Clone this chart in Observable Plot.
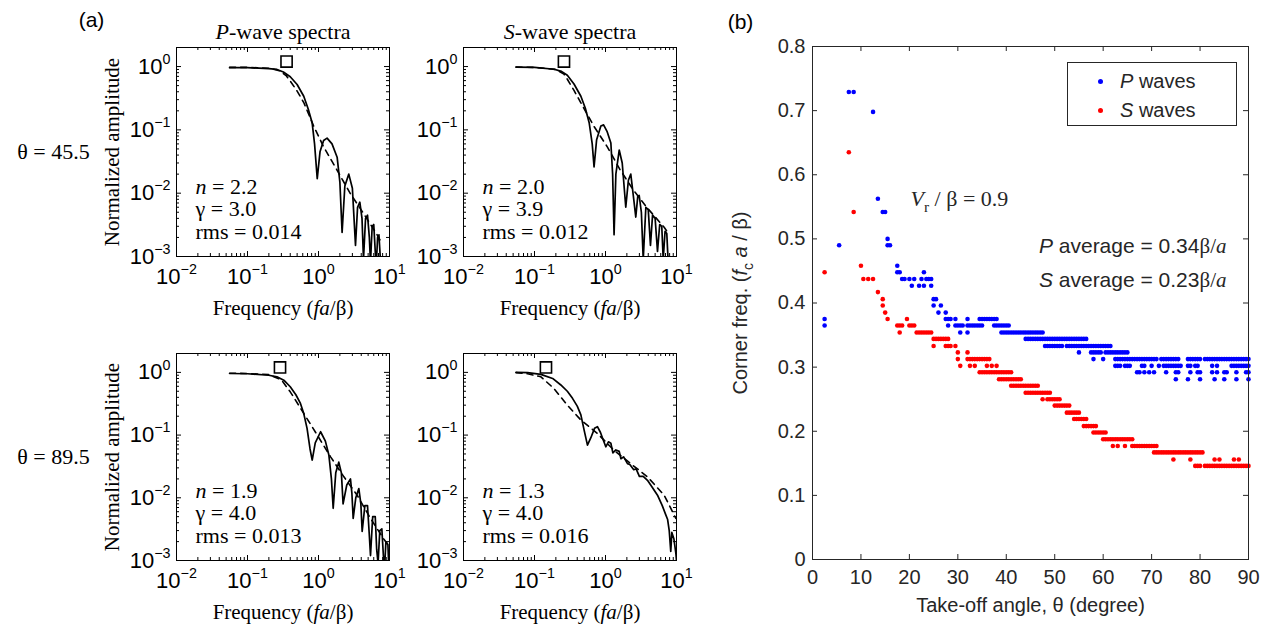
<!DOCTYPE html>
<html>
<head>
<meta charset="utf-8">
<script src="https://cdn.jsdelivr.net/npm/d3@7"></script>
<script src="https://cdn.jsdelivr.net/npm/@observablehq/plot@0.6"></script>
<style>
html, body { margin: 0; padding: 0; background: #fff; }
#fig { position: relative; width: 1273px; height: 624px; overflow: hidden; background: #fff; }
#fig svg { position: absolute; overflow: visible; background: transparent; }
.legend { position: absolute; box-sizing: border-box; border: 1px solid #262626; background: #fff;
  font-family: 'Liberation Sans', Arial, Helvetica, sans-serif; font-size: 20px; color: #262626; }
.legend .row { position: absolute; left: 0; height: 24px; line-height: 24px; white-space: nowrap; }
.legend .dot { position: absolute; width: 5px; height: 5px; border-radius: 50%; top: 10px; }
.legend .lab { position: absolute; top: 0; }
</style>
</head>
<body>
<div id="fig"></div>
<script>
// ---------------- DATA ----------------
// Panel (a): spectra, [frequency fa/beta, normalized amplitude]
const freqTicks = [0.01, 0.1, 1, 10];
const ampTicks = [0.001, 0.01, 0.1, 1];
const waveTitles = ["*P*-wave spectra", "*S*-wave spectra"];
const rowLabels = ["θ = 45.5", "θ = 89.5"];
const freqLabel = "Frequency (*fa*/β)";
const ampLabel = "Normalized amplitude";
const fitLabels = [
  ["*n* = 2.2", "γ = 3.0", "rms = 0.014"],
  ["*n* = 2.0", "γ = 3.9", "rms = 0.012"],
  ["*n* = 1.9", "γ = 4.0", "rms = 0.013"],
  ["*n* = 1.3", "γ = 4.0", "rms = 0.016"]
];
const cornerFreqs = [0.355, 0.26, 0.287, 0.145];
const cornerAmp = 1.2;

const p45Solid = [[0.056,0.96],[0.1,0.96],[0.2,0.93],[0.26,0.9],[0.32,0.82],[0.4,0.69],[0.5,0.52],[0.62,0.34],[0.72,0.21],[0.815,0.128],[0.88,0.06],[0.96,0.017],[1.05,0.045],[1.18,0.068],[1.32,0.074],[1.55,0.06],[1.83,0.037],[2.0,0.015],[2.15,0.0024],[2.35,0.013],[2.67,0.02],[3.0,0.012],[3.32,0.0015],[3.55,0.006],[3.82,0.0072],[4.1,0.004],[4.3,0.0009],[4.6,0.004],[4.9,0.0045],[5.2,0.002],[5.4,0.0008],[5.7,0.003],[6.0,0.0032],[6.3,0.0012],[6.5,0.0007],[6.8,0.002],[7.1,0.0022],[7.4,0.001],[7.6,0.0006]];
const p45Dashed = [[0.056,0.97],[0.1,0.97],[0.2,0.94],[0.28,0.86],[0.35,0.72],[0.4,0.59],[0.5,0.41],[0.62,0.27],[0.86,0.113],[1.18,0.054],[1.83,0.023],[2.82,0.0098],[4.35,0.0047],[6.7,0.0022],[7.6,0.0017]];
const s45Solid = [[0.055,0.98],[0.1,0.97],[0.189,0.906],[0.24,0.84],[0.29,0.73],[0.36,0.53],[0.45,0.34],[0.52,0.22],[0.59,0.128],[0.65,0.06],[0.69,0.026],[0.75,0.07],[0.86,0.115],[0.94,0.12],[1.05,0.095],[1.19,0.062],[1.26,0.02],[1.32,0.0022],[1.4,0.02],[1.56,0.048],[1.72,0.03],[1.93,0.006],[2.1,0.016],[2.27,0.02],[2.5,0.008],[2.67,0.0042],[2.85,0.009],[2.98,0.0092],[3.2,0.005],[3.4,0.0009],[3.7,0.006],[4.0,0.0055],[4.3,0.0015],[4.6,0.0045],[5.0,0.004],[5.4,0.0012],[5.8,0.0032],[6.2,0.003],[6.5,0.0009],[6.9,0.0025],[7.3,0.0023],[7.6,0.0009]];
const s45Dashed = [[0.055,0.98],[0.1,0.97],[0.2,0.9],[0.26,0.76],[0.29,0.63],[0.36,0.42],[0.45,0.267],[0.69,0.113],[1.06,0.054],[1.62,0.023],[2.5,0.011],[3.8,0.006],[6.7,0.0029],[7.7,0.0023]];
const p89Solid = [[0.056,0.96],[0.1,0.95],[0.2,0.9],[0.26,0.85],[0.33,0.74],[0.4,0.59],[0.48,0.44],[0.557,0.32],[0.62,0.22],[0.69,0.128],[0.76,0.06],[0.815,0.04],[0.9,0.075],[1.07,0.113],[1.25,0.08],[1.4,0.048],[1.52,0.02],[1.61,0.0068],[1.75,0.025],[1.93,0.037],[2.1,0.025],[2.22,0.008],[2.5,0.016],[2.82,0.02],[2.95,0.012],[3.08,0.0047],[3.35,0.01],[3.7,0.014],[3.95,0.008],[4.12,0.0029],[4.5,0.0075],[4.9,0.0075],[5.2,0.0025],[5.4,0.0012],[5.8,0.005],[6.3,0.005],[6.6,0.0015],[6.9,0.0009],[7.3,0.003],[7.8,0.0032],[8.2,0.0012],[8.5,0.0007],[8.9,0.002],[9.5,0.0018],[9.8,0.0007]];
const p89Dashed = [[0.056,0.97],[0.1,0.96],[0.2,0.92],[0.3,0.76],[0.4,0.49],[0.62,0.222],[0.96,0.1],[1.48,0.045],[2.28,0.0216],[3.5,0.011],[5.4,0.0047],[8.3,0.0022],[9.8,0.0017]];
const s89Solid = [[0.055,1.0],[0.08,0.99],[0.123,0.93],[0.18,0.8],[0.235,0.63],[0.29,0.5],[0.343,0.385],[0.4,0.29],[0.45,0.21],[0.5,0.12],[0.557,0.069],[0.62,0.09],[0.7,0.128],[0.77,0.136],[0.85,0.11],[0.91,0.089],[1.01,0.065],[1.1,0.078],[1.19,0.074],[1.27,0.052],[1.4,0.058],[1.56,0.055],[1.65,0.042],[1.8,0.045],[2.04,0.035],[2.2,0.034],[2.5,0.028],[2.7,0.029],[3.0,0.022],[3.4,0.022],[3.9,0.019],[4.5,0.015],[5.4,0.011],[6.3,0.0075],[7.0,0.0055],[7.5,0.0045],[7.9,0.003],[8.3,0.0014],[8.6,0.0028],[9.2,0.0022],[9.8,0.0013],[10,0.001]];
const s89Dashed = [[0.055,0.99],[0.08,0.95],[0.123,0.85],[0.187,0.556],[0.29,0.3],[0.45,0.174],[0.77,0.106],[1.3,0.058],[2.27,0.035],[3.9,0.0216],[6.7,0.011],[9.8,0.0047]];

// Panel (b): corner frequency levels and the take-off angles where each occurs
const angleTicks = [0, 10, 20, 30, 40, 50, 60, 70, 80, 90];
const cornerTicks = [0, 0.1, 0.2, 0.3, 0.4, 0.5, 0.6, 0.7, 0.8];
const pCorner = [0.729, 0.698, 0.5625, 0.542, 0.500, 0.490, 0.458, 0.448, 0.4375, 0.427, 0.406, 0.396, 0.385, 0.375, 0.365, 0.354, 0.344, 0.333, 0.323, 0.3125, 0.302, 0.292, 0.281];
const pAngle = [
  [7.5, 8.5],
  [12.5],
  [13.5],
  [14.5, 15],
  [15.5],
  [5.5, 15.5, 16],
  [17.5],
  [17.5, 18, 23],
  [18.5, 19, 20, 21, 22.5, 23.5, 24, 24.5],
  [20.5, 22, 23, 24.5],
  [25, 25.5],
  [25, 26.5],
  [26, 27.5],
  [2.5, 27.5, 28, 28.5, 29.5, 32, 34.5, 35, 35.5, 36, 36.5, 37, 37.5, 38],
  [2.5, 28, 29.5, 30, 30.5, 31, 32, 32.5, 33, 33.5, 34, 34.5, 35, 37.5, 38, 38.5, 39, 39.5, 40, 40.5],
  [30.5, 32, 39, 39.5, 40, 40.5, 41, 41.5, 42, 42.5, 43, 43.5, 44, 44.5, 45, 45.5, 46, 46.5, 47, 47.5],
  [44, 44.5, 45, 45.5, 46, 46.5, 47, 47.5, 48, 48.5, 49, 49.5, 50, 50.5, 51, 51.5, 52, 52.5, 53, 53.5, 54, 54.5, 55, 55.5, 56, 56.5],
  [48, 48.5, 49, 49.5, 50, 50.5, 51, 51.5, 52.5, 53, 53.5, 54, 54.5, 55, 55.5, 56, 56.5, 57, 57.5, 58, 58.5, 59, 59.5, 60, 60.5, 61, 61.5],
  [55, 57.5, 58, 58.5, 59, 59.5, 60.5, 61, 61.5, 62, 62.5, 63, 63.5, 64, 64.5, 65],
  [58, 60, 62.5, 63, 63.5, 64, 64.5, 65, 65.5, 66, 66.5, 67, 67.5, 68, 68.5, 69, 69.5, 70, 70.5, 71, 72, 72.5, 73, 73.5, 74, 74.5, 75, 75.5, 77.5, 78, 78.5, 79, 79.5, 80, 81, 81.5, 82, 82.5, 83, 83.5, 84, 84.5, 85, 85.5, 86, 86.5, 87, 87.5, 88, 88.5, 89, 89.5, 90],
  [62.5, 63, 63.5, 64.5, 65, 65.5, 68, 68.5, 70, 71.5, 72.5, 73, 73.5, 74, 74.5, 75, 75.5, 76, 77.5, 78, 79, 79.5, 82.5, 83.5, 86.5, 87, 87.5, 88, 88.5, 89, 89.5, 90],
  [67, 67.5, 68.5, 69.5, 70.5, 73, 75, 75.5, 78, 79.5, 80, 82.5, 83.5, 85, 85.5, 87.5, 89.5, 90],
  [75, 77.5, 80, 83, 85, 87.5, 90]
];
const sCorner = [0.635, 0.542, 0.458, 0.448, 0.4375, 0.417, 0.406, 0.396, 0.385, 0.375, 0.365, 0.354, 0.344, 0.333, 0.323, 0.3125, 0.302, 0.292, 0.281, 0.271, 0.26, 0.25, 0.24, 0.229, 0.219, 0.208, 0.198, 0.1875, 0.177, 0.167, 0.156, 0.146];
const sAngle = [
  [7.5], [8.5], [10], [2.5], [10.5, 11.5, 12.5], [13.5], [14.5], [14.5], [15], [15.5, 19.5],
  [17.5, 18, 18.5, 20, 20.5, 21],
  [18, 21.5, 22, 22.5, 23, 23.5, 24, 24.5],
  [25, 25.5, 26, 26.5, 27, 27.5, 28],
  [25, 27.5, 28, 28.5, 29.5],
  [30, 32],
  [30, 32, 32.5, 33, 33.5, 34, 34.5, 35, 35.5, 36, 36.5],
  [30.5, 32.5, 33.5, 36, 37, 38],
  [34.5, 35, 35.5, 36, 36.5, 37, 37.5, 38, 38.5, 39, 39.5, 40, 40.5, 41],
  [38.5, 39, 39.5, 40, 40.5, 41, 41.5, 42, 42.5, 43],
  [41, 41.5, 42, 42.5, 43, 43.5, 44, 44.5, 45, 45.5, 46, 46.5],
  [44, 44.5, 45, 45.5, 46, 46.5, 47, 47.5, 48, 48.5, 49],
  [47.5, 48.5, 49, 49.5, 50, 50.5, 51],
  [50, 50.5, 51, 51.5, 52, 52.5, 53],
  [52.5, 53, 53.5, 54, 54.5, 55],
  [54, 54.5, 55, 55.5, 56, 56.5],
  [56, 56.5, 57, 57.5, 58, 58.5],
  [58, 58.5, 59, 59.5, 60, 60.5],
  [60, 60.5, 61, 61.5, 62, 62.5, 63, 63.5, 64, 64.5, 65, 65.5, 66],
  [62, 63, 64.5, 66, 66.5, 67, 67.5, 68, 68.5, 69, 69.5, 70, 70.5, 71],
  [70.5, 71, 71.5, 72, 72.5, 73, 73.5, 74, 74.5, 75, 75.5, 76, 76.5, 77, 77.5, 78, 78.5, 79, 79.5, 80, 80.5],
  [74.5, 78, 83, 84, 87, 88],
  [79, 79.5, 80, 81, 81.5, 82, 82.5, 83, 83.5, 84, 84.5, 85, 85.5, 86, 86.5, 87, 87.5, 88, 88.5, 89, 89.5, 90]
];
const seriesNames = ["*P* waves", "*S* waves"];
const seriesColors = ["#0000ff", "#ff0000"];
const panelLabels = ["(a)", "(b)"];
const ratioLabel = "*V*_{r} / β = 0.9";
const averageLabels = ["*P* average = 0.34~β/*a*~", "*S* average = 0.23~β/*a*~"];
const angleLabel = "Take-off angle, θ (degree)";
const cornerLabel = "Corner freq. (*f*_{c} *a* / β)";

// ---------------- HELPERS ----------------
const SANS = "'Liberation Sans', Arial, Helvetica, sans-serif";
const SERIF = "'Liberation Serif', 'Times New Roman', Times, serif";
const fig = document.getElementById("fig");

function esc(s) { return s.replace(/&/g, "&amp;").replace(/</g, "&lt;"); }
function rich(s, fs) {
  const re = /(\*[^*]+\*|_\{[^}]*\}|\^\{[^}]*\}|~[^~]+~)/;
  let out = "", pend = 0;
  for (const t of s.split(re)) {
    if (!t) continue;
    let inner, attrs = "", dy = pend; pend = 0;
    if (/^\*[^*]+\*$/.test(t)) { inner = rich(t.slice(1, -1), fs); attrs = ' font-style="italic"'; }
    else if (t.startsWith("_{")) { inner = esc(t.slice(2, -1)); attrs = ' font-size="' + (0.7 * fs).toFixed(1) + 'px" font-style="normal"'; dy += 0.28 * fs; pend = -0.28 * fs; }
    else if (t.startsWith("^{")) { inner = esc(t.slice(2, -1)); attrs = ' font-size="' + (0.65 * fs).toFixed(1) + 'px"'; dy -= 0.45 * fs; pend = 0.45 * fs; }
    else if (/^~[^~]+~$/.test(t)) { inner = rich(t.slice(1, -1), fs); attrs = ' font-family="' + SERIF + '"'; }
    else inner = esc(t);
    if (dy) attrs += ' dy="' + dy.toFixed(2) + '"';
    out += "<tspan" + attrs + ">" + inner + "</tspan>";
  }
  return out;
}
const markup = /\*|~|_\{|\^\{/;
function place(svg, left, top) {
  svg.style.left = left + "px"; svg.style.top = top + "px";
  fig.appendChild(svg);
  svg.querySelectorAll("text").forEach(t => {
    const s = t.textContent;
    if (!markup.test(s)) return;
    const fs = parseFloat(getComputedStyle(t).fontSize) || 20;
    t.innerHTML = rich(s, fs);
  });
}
const pow10 = d => { const e = Math.round(Math.log10(d)); return "10^{" + (e < 0 ? "−" + (-e) : e) + "}"; };
const minorMult = [2, 3, 4, 5, 6, 7, 8, 9];
function minorTicks(lo, hi) { const out = []; for (let e = lo; e < hi; e++) for (const m of minorMult) out.push(m * Math.pow(10, e)); return out; }
const label = (s, opts) => Plot.text([s], {text: d => d, textAnchor: "middle", lineAnchor: "middle", ...opts});

// ---------------- PANEL (a) ----------------
function spectrumPanel(o) {
  const fw = 213, fh = o.height - o.mt - o.mb;
  const tl = 5, tm = 3;
  const xMinor = minorTicks(-2, 1), yMinor = minorTicks(-3, 0);
  const marks = [
    Plot.frame({stroke: "black", strokeWidth: 1}),
    Plot.ruleX(freqTicks, {x: d => d, insetTop: fh - tl, stroke: "black"}),
    Plot.ruleX(freqTicks, {x: d => d, insetBottom: fh - tl, stroke: "black"}),
    Plot.ruleX(xMinor, {x: d => d, insetTop: fh - tm, stroke: "black"}),
    Plot.ruleX(xMinor, {x: d => d, insetBottom: fh - tm, stroke: "black"}),
    Plot.ruleY(ampTicks, {y: d => d, insetRight: fw - tl, stroke: "black"}),
    Plot.ruleY(ampTicks, {y: d => d, insetLeft: fw - tl, stroke: "black"}),
    Plot.ruleY(yMinor, {y: d => d, insetRight: fw - tm, stroke: "black"}),
    Plot.ruleY(yMinor, {y: d => d, insetLeft: fw - tm, stroke: "black"}),
    Plot.axisX(freqTicks, {tickSize: 0, tickPadding: 12, tickFormat: pow10, label: null, fill: "black"}),
    Plot.axisY(ampTicks, {tickSize: 0, tickPadding: 6, tickFormat: pow10, label: null, fill: "black"}),
    Plot.line(o.solid, {x: d => d[0], y: d => d[1], stroke: "black", strokeWidth: 1.7, clip: true}),
    Plot.line(o.dashed, {x: d => d[0], y: d => d[1], stroke: "black", strokeWidth: 1.6, strokeDasharray: "6,5", clip: true}),
    Plot.dot([[o.corner, cornerAmp]], {x: d => d[0], y: d => d[1], symbol: "square", r: 6.3, stroke: "black", strokeWidth: 1.6, fill: "white"}),
    label(freqLabel, {frameAnchor: "bottom", dy: 52, fontFamily: SERIF, fontSize: 21, fill: "black"}),
    ...o.fit.map((s, i) => label(s, {frameAnchor: "bottom-left", textAnchor: "start", dx: 19, dy: -70 + 22.8 * i, fontFamily: SERIF, fontSize: 22, fill: "black"}))
  ];
  if (o.title) marks.push(label(o.title, {frameAnchor: "top", dy: -16, fontFamily: SERIF, fontSize: 22, fill: "black"}));
  if (o.left) {
    marks.push(label(ampLabel, {frameAnchor: "left", rotate: -90, dx: -64, fontFamily: SERIF, fontSize: 21, fill: "black"}));
    marks.push(label(o.rowLabel, {frameAnchor: "left", dx: -123, fontFamily: SERIF, fontSize: 22, fill: "black"}));
  }
  if (o.panel) marks.push(label(o.panel, {frameAnchor: "top-left", dx: -85, dy: -27, fontFamily: SANS, fontSize: 21, fill: "black"}));
  return Plot.plot({
    width: o.width, height: o.height,
    marginLeft: o.ml, marginRight: o.width - o.ml - fw, marginTop: o.mt, marginBottom: o.mb,
    x: {type: "log", domain: [0.01, 10]},
    y: {type: "log", domain: [0.001, 2]},
    style: {fontFamily: SANS, fontSize: "22px", color: "black", background: "transparent", overflow: "visible"},
    marks
  });
}

place(spectrumPanel({width: 400, height: 330, ml: 176, mt: 47, mb: 74, solid: p45Solid, dashed: p45Dashed, corner: cornerFreqs[0], fit: fitLabels[0], title: waveTitles[0], left: true, rowLabel: rowLabels[0], panel: panelLabels[0]}), 0, 0);
place(spectrumPanel({width: 300, height: 330, ml: 63, mt: 47, mb: 74, solid: s45Solid, dashed: s45Dashed, corner: cornerFreqs[1], fit: fitLabels[1], title: waveTitles[1]}), 400, 0);
place(spectrumPanel({width: 400, height: 324, ml: 176, mt: 53, mb: 64, solid: p89Solid, dashed: p89Dashed, corner: cornerFreqs[2], fit: fitLabels[2], left: true, rowLabel: rowLabels[1]}), 0, 300);
place(spectrumPanel({width: 300, height: 324, ml: 63, mt: 53, mb: 64, solid: s89Solid, dashed: s89Dashed, corner: cornerFreqs[3], fit: fitLabels[3]}), 400, 300);

// ---------------- PANEL (b) ----------------
const pPoints = pCorner.flatMap((v, i) => pAngle[i].map(a => ({angle: a, fc: v})));
const sPoints = sCorner.flatMap((v, i) => sAngle[i].map(a => ({angle: a, fc: v})));
{
  const W = 573, H = 624, ml = 112, mr = 25, mt = 46, mb = 65;
  const fw = W - ml - mr, fh = H - mt - mb, tl = 5;
  const ax = "#262626";
  const svg = Plot.plot({
    width: W, height: H, marginLeft: ml, marginRight: mr, marginTop: mt, marginBottom: mb,
    x: {domain: [0, 90]},
    y: {domain: [0, 0.8]},
    style: {fontFamily: SANS, fontSize: "20px", color: ax, background: "transparent", overflow: "visible"},
    marks: [
      Plot.ruleX(angleTicks, {x: d => d, insetTop: fh - tl, stroke: ax}),
      Plot.ruleX(angleTicks, {x: d => d, insetBottom: fh - tl, stroke: ax}),
      Plot.ruleY(cornerTicks, {y: d => d, insetRight: fw - tl, stroke: ax}),
      Plot.ruleY(cornerTicks, {y: d => d, insetLeft: fw - tl, stroke: ax}),
      Plot.axisX(angleTicks, {tickSize: 0, tickPadding: 10, tickFormat: d => String(d), label: null, fill: ax}),
      Plot.axisY(cornerTicks, {tickSize: 0, tickPadding: 7, tickFormat: d => d === 0 ? "0" : d.toFixed(1), label: null, fill: ax}),
      Plot.dot(pPoints, {x: "angle", y: "fc", r: 2.3, fill: seriesColors[0], stroke: null}),
      Plot.dot(sPoints, {x: "angle", y: "fc", r: 2.3, fill: seriesColors[1], stroke: null}),
      Plot.frame({stroke: ax, strokeWidth: 1}),
      label(ratioLabel, {frameAnchor: "top-left", textAnchor: "start", dx: 98, dy: 152, fontFamily: SERIF, fontSize: 22, fill: ax}),
      ...averageLabels.map((s, i) => label(s, {frameAnchor: "top-right", textAnchor: "end", dx: -22, dy: 200 + 34 * i, fontFamily: SANS, fontSize: 21, fill: ax})),
      label(angleLabel, {frameAnchor: "bottom", dy: 46, fontFamily: SANS, fontSize: 20, fill: ax}),
      label(cornerLabel, {frameAnchor: "left", rotate: -90, dx: -72, fontFamily: SANS, fontSize: 20, fill: ax}),
      label(panelLabels[1], {frameAnchor: "top-left", dx: -72, dy: -24, fontFamily: SANS, fontSize: 21, fill: "black"})
    ]
  });
  place(svg, 700, 0);

  // legend box (inside the axes, top-right)
  const lg = document.createElement("div");
  lg.className = "legend";
  const lw = 170, lh = 64;
  lg.style.width = lw + "px"; lg.style.height = lh + "px";
  lg.style.left = (700 + W - mr - 11 - lw) + "px";
  lg.style.top = (mt + 16) + "px";
  seriesNames.forEach((name, i) => {
    const row = document.createElement("div");
    row.className = "row";
    row.style.top = (6 + 29 * i) + "px";
    row.style.width = lw + "px";
    const dot = document.createElement("span");
    dot.className = "dot"; dot.style.left = "30px"; dot.style.background = seriesColors[i];
    const lab = document.createElement("span");
    lab.className = "lab"; lab.style.left = "52px";
    lab.innerHTML = name.replace(/\*([^*]+)\*/g, "<i>$1</i>");
    row.appendChild(dot); row.appendChild(lab);
    lg.appendChild(row);
  });
  fig.appendChild(lg);
}
</script>
</body>
</html>
